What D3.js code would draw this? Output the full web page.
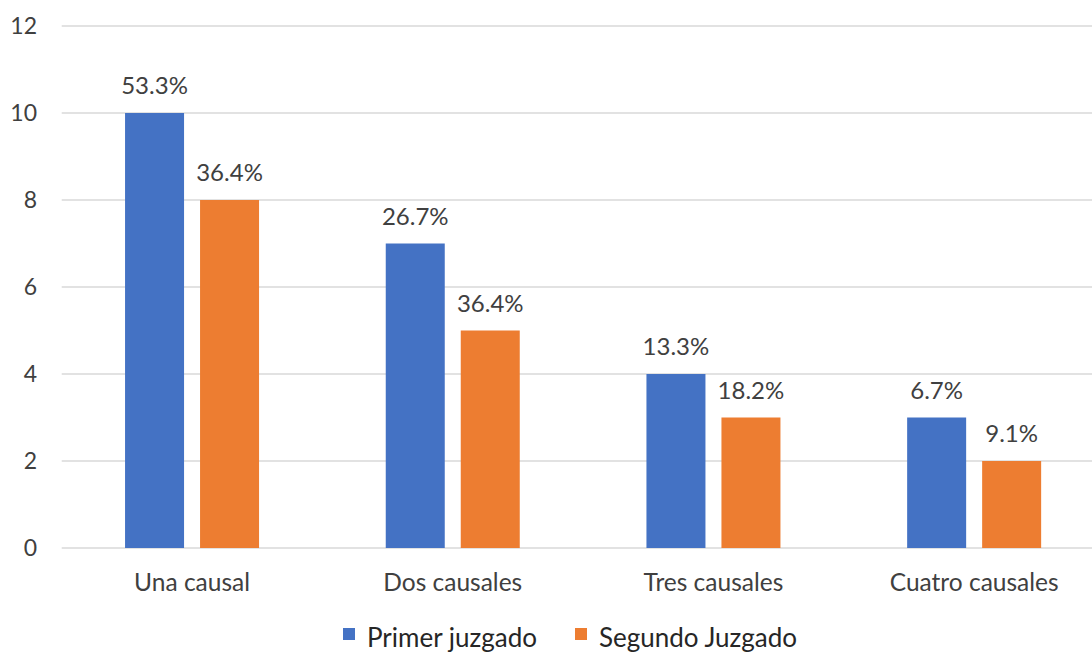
<!DOCTYPE html>
<html><head><meta charset="utf-8">
<script src="https://cdn.jsdelivr.net/npm/d3@7"></script>
<style>body{margin:0;background:#fff}svg{display:block}text{font-family:Lato,"Open Sans",sans-serif;fill:#404040}</style>
</head><body><svg id="c" width="1092" height="652"></svg>
<script>
const categories = ["Una causal","Dos causales","Tres causales","Cuatro causales"];
const seriesNames = ["Primer juzgado","Segundo Juzgado"];
const primer = [10,7,4,3];
const segundo = [8,5,3,2];
const primerLabels = ["53.3%","26.7%","13.3%","6.7%"];
const segundoLabels = ["36.4%","36.4%","18.2%","9.1%"];
const yTicks = [0,2,4,6,8,10,12];
const colors = ["#4472C4","#ED7D31"];

(function(){
const svg = d3.select("#c");
const pLeft = 61.7, pRight = 1104.5, pTop = 26, pBottom = 548;
const x = d3.scaleBand().domain(categories).range([pLeft,pRight]).paddingInner(0).paddingOuter(0);
const y = d3.scaleLinear().domain([0,12]).range([pBottom,pTop]);
const inner = d3.scaleBand().domain(seriesNames).range([0,134]).paddingInner(16/75).paddingOuter(0);
const off = (x.bandwidth()-134)/2;

svg.append("g").selectAll("line").data(yTicks).join("line")
  .attr("x1",pLeft).attr("x2",pRight).attr("y1",d=>y(d)).attr("y2",d=>y(d))
  .attr("stroke","#d9d9d9").attr("stroke-width",1.5);

svg.append("g").selectAll("text").data(yTicks).join("text")
  .attr("x",37).attr("y",d=>y(d)+8).attr("text-anchor","end").attr("font-size",23).text(d=>d);

const series = [primer, segundo];
const labels = [primerLabels, segundoLabels];
series.forEach((vals,si)=>{
  const g = svg.append("g");
  g.selectAll("rect").data(categories).join("rect")
    .attr("x",(c)=>x(c)+off+inner(seriesNames[si]))
    .attr("width",inner.bandwidth())
    .attr("y",(c,i)=>y(vals[i]))
    .attr("height",(c,i)=>y(0)-y(vals[i]))
    .attr("fill",colors[si]);
  g.selectAll("text").data(categories).join("text")
    .attr("x",(c)=>x(c)+off+inner(seriesNames[si])+inner.bandwidth()/2)
    .attr("y",(c,i)=>y(vals[i])-19)
    .attr("text-anchor","middle").attr("font-size",24)
    .text((c,i)=>labels[si][i]);
});

svg.append("g").selectAll("text").data(categories).join("text")
  .attr("x",c=>x(c)+x.bandwidth()/2).attr("y",591)
  .attr("text-anchor","middle").attr("font-size",24.5).text(c=>c);

const legX = [343,575];
const lg = svg.append("g");
seriesNames.forEach((n,i)=>{
  lg.append("rect").attr("x",legX[i]).attr("y",628).attr("width",12).attr("height",12).attr("fill",colors[i]);
  lg.append("text").attr("x",legX[i]+24).attr("y",647).attr("font-size",26).attr("style","fill:#262626").text(n);
});
})();
</script></body></html>
